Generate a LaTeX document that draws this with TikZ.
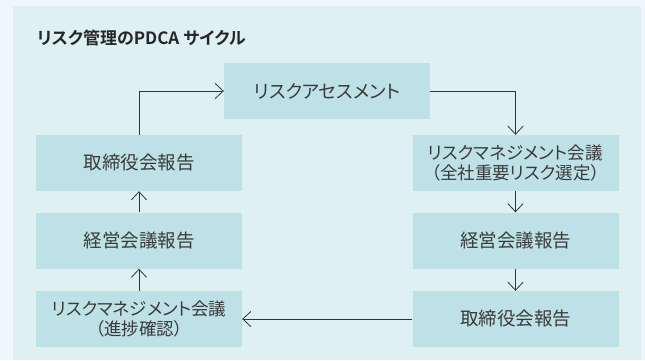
\documentclass[tikz,border=0pt]{standalone}
\usepackage{fontspec}
\setmainfont{Noto Sans CJK JP}[RawFeature={+palt},BoldFont={Noto Sans CJK JP Bold}]
\usetikzlibrary{arrows.meta}
\definecolor{outerbg}{HTML}{EEF7F9}
\definecolor{panelbg}{HTML}{DFF0F3}
\definecolor{boxbg}{HTML}{BDE1E7}
\definecolor{txt}{HTML}{3A3A3A}
\definecolor{lin}{HTML}{333333}
\begin{document}
\begin{tikzpicture}[x=1pt,y=-1pt,
  stepbox/.style={fill=boxbg, minimum width=206pt, minimum height=56pt, inner sep=0pt,
    text=txt, font=\fontsize{18.5}{22}\selectfont, align=center},
  smallbox/.style={stepbox, font=\fontsize{17.5}{20.5}\selectfont},
  conn/.style={draw=lin, line width=0.8pt, -{Straight Barb[length=8pt,width=15pt]}}]
\useasboundingbox (0,0) rectangle (645,360);
\fill[outerbg] (0,0) rectangle (645,360);
\fill[panelbg] (13,6) rectangle (641,360);
\node[anchor=west, inner sep=0pt, font=\bfseries\fontsize{17}{19}\selectfont, text=black!85] (title) at (37,38) {リスク管理のPDCA サイクル};
\node[stepbox] (ra) at (327,91) {リスクアセスメント};
\node[stepbox] (l1) at (139,163) {取締役会報告};
\node[stepbox] (l2) at (139,240.5) {経営会議報告};
\node[smallbox] (l3) at (139,319) {リスクマネジメント会議\\（進捗確認）};
\node[smallbox] (r1) at (515.5,163) {リスクマネジメント会議\\（全社重要リスク選定）};
\node[stepbox] (r2) at (515.5,240.5) {経営会議報告};
\node[stepbox] (r3) at (515.5,319) {取締役会報告};
\draw[conn] (l1.north) |- (ra.west);
\draw[conn] (ra.east) -| (r1.north);
\draw[conn] (r1) -- (r2);
\draw[conn] (r2) -- (r3);
\draw[conn] (r3) -- (l3);
\draw[conn] (l3) -- (l2);
\draw[conn] (l2) -- (l1);
\end{tikzpicture}
\end{document}
